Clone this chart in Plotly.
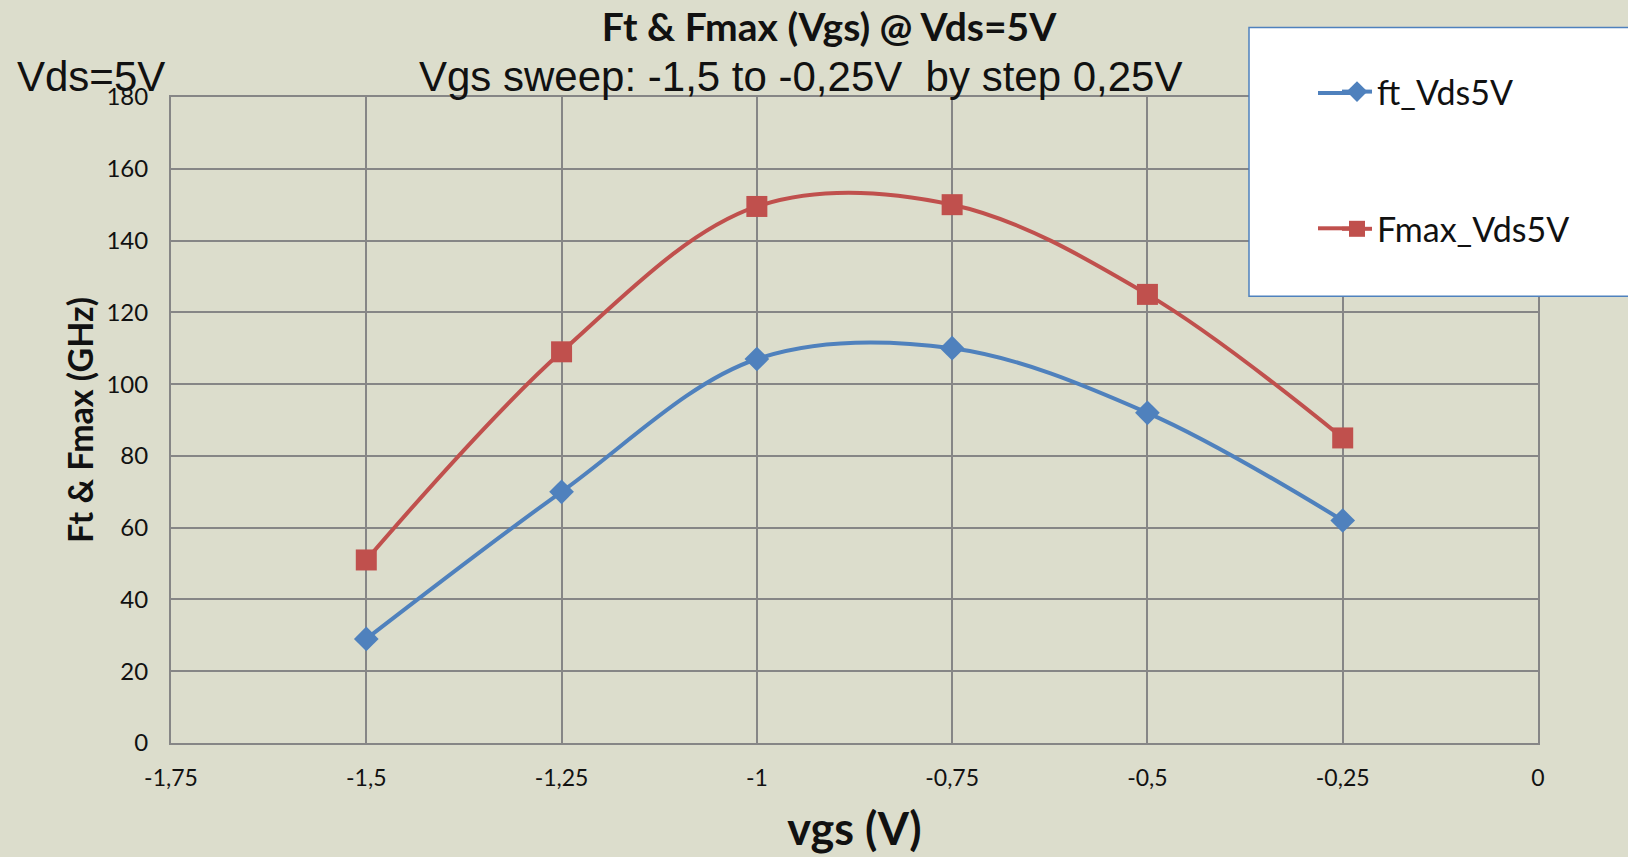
import plotly.graph_objects as go

vgs = [-1.5, -1.25, -1.0, -0.75, -0.5, -0.25]
ft_vds5v = [29, 70, 107, 110, 92, 62]
fmax_vds5v = [51, 109, 149.5, 150, 125, 85]

x_tickvals = [-1.75, -1.5, -1.25, -1.0, -0.75, -0.5, -0.25, 0]
x_ticktext = ["-1,75", "-1,5", "-1,25", "-1", "-0,75", "-0,5", "-0,25", "0"]
y_tickvals = [0, 20, 40, 60, 80, 100, 120, 140, 160, 180]

BG = "#DCDDCC"
GRID = "#868686"
BLUE = "#4F81BD"
RED = "#C0504D"
W, H = 1628, 857
L, R, T, B = 171, 90, 96.5, 113.5

fig = go.Figure()
fig.add_trace(go.Scatter(
    x=vgs, y=ft_vds5v, name="ft_Vds5V", mode="lines+markers",
    line=dict(color=BLUE, width=4, shape="spline"),
    marker=dict(symbol="diamond", size=19, color=BLUE),
    legendgroup="a",
))
fig.add_trace(go.Scatter(
    x=vgs, y=fmax_vds5v, name="Fmax_Vds5V", mode="lines+markers",
    line=dict(color=RED, width=4, shape="spline"),
    marker=dict(symbol="square", size=21, color=RED),
    legendgroup="b",
))

pw = W - L - R
ph = H - T - B

def px_x(v):
    return (v - L) / pw

def px_y(v):
    return (H - B - v) / ph

# legend frame (extends past the right edge, as in the original)
fig.add_shape(type="rect", xref="paper", yref="paper",
              x0=px_x(1249), x1=px_x(1700), y0=px_y(296), y1=px_y(27),
              line=dict(color=BLUE, width=1.5), fillcolor="white", layer="above")
# longer legend line stubs (Excel-style legend keys)
for ly, col in ((92.5, BLUE), (228, RED)):
    fig.add_shape(type="line", xref="paper", yref="paper",
                  x0=px_x(1318), x1=px_x(1350), y0=px_y(ly), y1=px_y(ly),
                  line=dict(color=col, width=4), layer="above")

fig.add_annotation(text="Vgs sweep: -1,5 to -0,25V  by step 0,25V",
                   xref="paper", yref="paper", x=px_x(800), y=px_y(76),
                   showarrow=False, xanchor="center", yanchor="middle",
                   font=dict(family="Liberation Sans", size=42, color="#111111"))
fig.add_annotation(text="Vds=5V",
                   xref="paper", yref="paper", x=px_x(15), y=px_y(76),
                   showarrow=False, xanchor="left", yanchor="middle",
                   font=dict(family="Liberation Sans", size=42, color="#111111"))

fig.update_layout(
    width=W, height=H,
    paper_bgcolor=BG, plot_bgcolor=BG,
    margin=dict(l=L, r=R, t=T, b=B, autoexpand=False),
    title=dict(text="<b>Ft & Fmax (Vgs) @ Vds=5V</b>", xref="container", yref="container",
               x=829 / W, y=1 - 27 / H, xanchor="center", yanchor="middle",
               font=dict(family="Lato", size=39, color="#111111")),
    legend=dict(xref="container", yref="container", x=1337 / W, y=1 - 63 / H,
                xanchor="left", yanchor="top", bgcolor="rgba(0,0,0,0)",
                tracegroupgap=90, traceorder="grouped",
                font=dict(family="Lato", size=34, color="#111111")),
    showlegend=True,
)
fig.update_xaxes(
    range=[-1.75, 0], tickvals=x_tickvals, ticktext=x_ticktext,
    showgrid=True, gridcolor=GRID, gridwidth=2, zeroline=False,
    showline=True, linecolor=GRID, linewidth=2, mirror=True,
    ticks="", ticklabelstandoff=13,
    tickfont=dict(family="Lato", size=23, color="#111111"),
    title=dict(text="<b>vgs (V)</b>", standoff=24,
               font=dict(family="Lato", size=45, color="#111111")),
)
fig.update_yaxes(
    range=[0, 180], tickvals=y_tickvals,
    showgrid=True, gridcolor=GRID, gridwidth=2, zeroline=False,
    showline=True, linecolor=GRID, linewidth=2, mirror=True,
    ticks="", ticklabelstandoff=16,
    tickfont=dict(family="Lato", size=24, color="#111111"),
    title=dict(text="<b>Ft & Fmax (GHz)</b>", standoff=3,
               font=dict(family="Lato", size=34, color="#111111")),
)

fig.write_html("out.html")
